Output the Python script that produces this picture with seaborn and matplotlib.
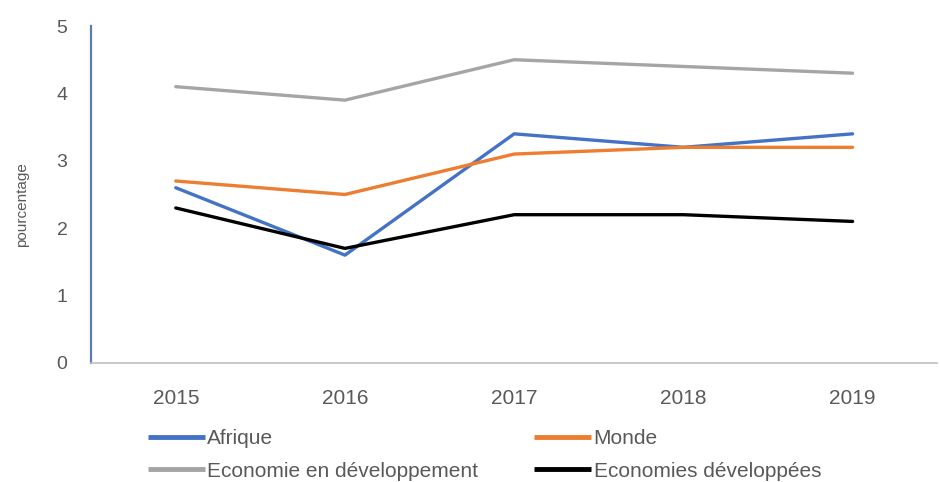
import matplotlib.pyplot as plt
import seaborn as sns
import pandas as pd

years = ["2015", "2016", "2017", "2018", "2019"]
afrique = [2.6, 1.6, 3.4, 3.2, 3.4]
monde = [2.7, 2.5, 3.1, 3.2, 3.2]
eco_dev = [4.1, 3.9, 4.5, 4.4, 4.3]
eco_devees = [2.3, 1.7, 2.2, 2.2, 2.1]

series = ["Afrique", "Monde", "Economie en développement", "Economies développées"]
colors = ["#4472C4", "#ED7D31", "#A5A5A5", "#000000"]

df = pd.DataFrame({
    "annee": years * 4,
    "valeur": afrique + monde + eco_dev + eco_devees,
    "serie": [s for s in series for _ in years],
})

sns.set_style("white")
plt.rcParams["font.family"] = ["Liberation Sans", "DejaVu Sans"]

fig = plt.figure(figsize=(9.4, 4.82), dpi=100)
ax = fig.add_axes([0.097, 0.247, 0.9, 0.699])

sns.lineplot(data=df, x="annee", y="valeur", hue="serie", hue_order=series,
             palette=colors, linewidth=2.4, ax=ax, legend=False, sort=False)

ax.set_xlim(-0.5, 4.5)
ax.set_ylim(0, 5)
ax.set_yticks(range(6))
ax.set_xlabel("")
ax.set_ylabel("pourcentage", fontsize=11, color="#595959")
ax.yaxis.set_label_coords(-0.074, 0.47)
ax.tick_params(axis="both", colors="#595959", length=0)
ax.tick_params(axis="x", labelsize=15, pad=19)
ax.tick_params(axis="y", labelsize=14, pad=17)

for side in ["top", "right"]:
    ax.spines[side].set_visible(False)
ax.spines["left"].set_color("#5B7DB1")
ax.spines["left"].set_linewidth(1.6)
ax.spines["bottom"].set_color("#BFBFBF")
ax.spines["bottom"].set_linewidth(1.2)

# legend filled column by column: reorder so rows read Afrique/Monde, then the two economies
order = [0, 2, 1, 3]
handles = [plt.Line2D([], [], color=colors[i], linewidth=3.5, solid_capstyle="butt") for i in order]
labels = [series[i] for i in order]
fig.legend(handles, labels, loc="upper left", bbox_to_anchor=(0.157, 0.110),
           ncol=2, frameon=False, fontsize=15, handlelength=2.75,
           handletextpad=0.1, columnspacing=2.7, labelspacing=0.65,
           borderpad=0, borderaxespad=0, labelcolor="#595959")

fig.savefig("out.png", dpi=100)
